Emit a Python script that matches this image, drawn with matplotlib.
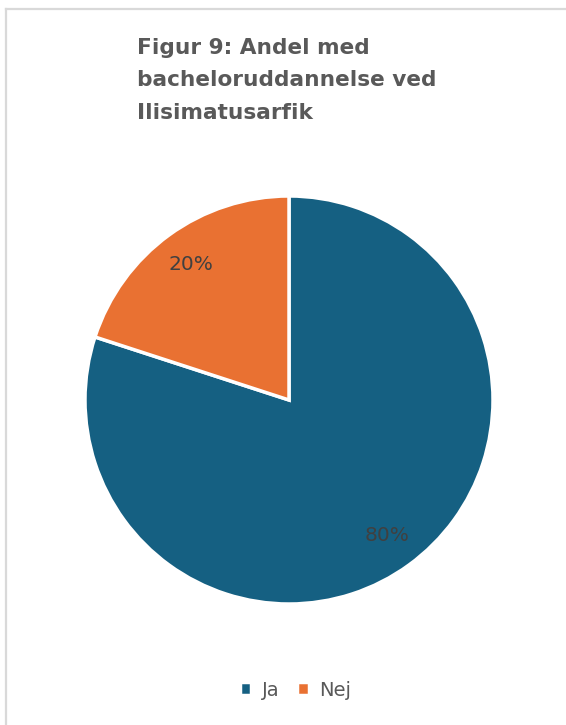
import matplotlib.pyplot as plt
from matplotlib.lines import Line2D

# Data
kategorier = ["Ja", "Nej"]
andele = [80, 20]
farver = ["#156082", "#E97132"]
titel = "Figur 9: Andel med\nbacheloruddannelse ved\nIlisimatusarfik"

W, H = 566, 725
fig = plt.figure(figsize=(W / 100, H / 100), dpi=100)
fig.patch.set_facecolor("white")

# light grey chart frame (top and left edges visible)
fig.add_artist(Line2D([6 / W, 6 / W], [0, 1 - 9 / H], color="#d9d9d9", lw=1.6,
                      transform=fig.transFigure))
fig.add_artist(Line2D([6 / W, 1], [1 - 9 / H, 1 - 9 / H], color="#d9d9d9", lw=1.6,
                      transform=fig.transFigure))

cx, cy, r = 289, 400, 204
ax = fig.add_axes([(cx - r) / W, (H - cy - r) / H, 2 * r / W, 2 * r / H])
wedges, _, pcts = ax.pie(andele, colors=farver, startangle=90, counterclock=False,
                         autopct="%1.0f%%", pctdistance=0.82, radius=1,
                         wedgeprops=dict(edgecolor="white", linewidth=2.5),
                         textprops=dict(color="#404040", fontsize=14.5))
ax.set_xlim(-1, 1)
ax.set_ylim(-1, 1)
ax.set_aspect("equal")
ax.axis("off")

fig.text(137 / W, 1 - 38 / H, titel, ha="left", va="top", fontsize=15.6,
         fontweight="bold", color="#595959", linespacing=1.78)

leg = fig.legend(wedges, kategorier, loc="center", bbox_to_anchor=(0.522, 1 - 690 / H),
                 ncol=2, frameon=False, fontsize=14, handlelength=0.6,
                 handleheight=0.6, handletextpad=0.55, columnspacing=0.9)
for t in leg.get_texts():
    t.set_color("#595959")

fig.savefig("out.png", dpi=100)
